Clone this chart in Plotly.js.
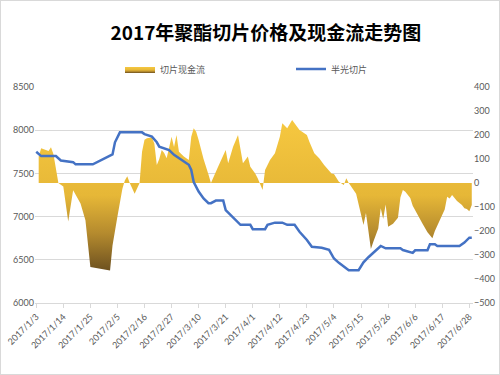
<!DOCTYPE html>
<html><head><meta charset="utf-8">
<script src="https://cdn.plot.ly/plotly-3.0.1.min.js"></script>
<style>
html,body{margin:0;padding:0;background:#fff;}
#wrap{width:500px;height:375px;box-sizing:border-box;border:1px solid #d9d9d9;}
#chart{width:498px;height:373px;}
</style>
</head><body><div id="wrap"><div id="chart"></div></div>
<script>
var titleText = '2017年聚酯切片价格及现金流走势图';
var cashName = '切片现金流';
var priceName = '半光切片';

var cashDates = ['2017-01-04','2017-01-05','2017-01-08','2017-01-09','2017-01-10','2017-01-12','2017-01-14','2017-01-16','2017-01-18','2017-01-21','2017-01-23','2017-01-24','2017-01-25','2017-02-02','2017-02-03','2017-02-05','2017-02-07','2017-02-08','2017-02-09','2017-02-10','2017-02-12','2017-02-14','2017-02-15','2017-02-16','2017-02-17','2017-02-19','2017-02-20','2017-02-21','2017-02-22','2017-02-23','2017-02-24','2017-02-25','2017-02-27','2017-02-28','2017-03-01','2017-03-02','2017-03-04','2017-03-06','2017-03-07','2017-03-08','2017-03-09','2017-03-10','2017-03-12','2017-03-14','2017-03-15','2017-03-18','2017-03-21','2017-03-22','2017-03-24','2017-03-26','2017-03-28','2017-03-30','2017-03-31','2017-04-02','2017-04-03','2017-04-05','2017-04-06','2017-04-08','2017-04-10','2017-04-12','2017-04-13','2017-04-15','2017-04-17','2017-04-20','2017-04-23','2017-04-24','2017-04-26','2017-04-28','2017-04-30','2017-05-03','2017-05-04','2017-05-06','2017-05-08','2017-05-09','2017-05-10','2017-05-13','2017-05-15','2017-05-16','2017-05-17','2017-05-18','2017-05-19','2017-05-20','2017-05-22','2017-05-23','2017-05-24','2017-05-25','2017-05-26','2017-05-28','2017-05-30','2017-05-31','2017-06-01','2017-06-02','2017-06-04','2017-06-05','2017-06-07','2017-06-09','2017-06-11','2017-06-12','2017-06-13','2017-06-14','2017-06-16','2017-06-18','2017-06-19','2017-06-20','2017-06-21','2017-06-23','2017-06-25','2017-06-26','2017-06-27','2017-06-28','2017-06-29'];
var cashValues = [110,145,133,149,120,0,-15,-160,-30,-85,-155,-240,-350,-365,-260,-140,-25,10,28,0,-45,0,130,180,186,190,165,75,100,137,125,103,193,150,200,130,110,96,193,228,214,179,100,35,0,70,137,82,151,200,82,110,68,40,20,-29,54,96,124,193,249,228,262,221,200,172,124,103,75,40,38,5,-8,20,0,-45,-140,-175,-125,-210,-275,-245,-190,-105,-150,-90,-182,-170,-145,-60,-29,-36,-62,-95,-135,-170,-205,-220,-230,-200,-155,-110,-57,-65,-50,-75,-92,-105,-108,-118,-92];

var priceDates = ['2017-01-03','2017-01-05','2017-01-11','2017-01-13','2017-01-18','2017-01-19','2017-01-26','2017-02-03','2017-02-04','2017-02-06','2017-02-15','2017-02-16','2017-02-19','2017-02-21','2017-02-22','2017-02-23','2017-02-26','2017-02-28','2017-03-03','2017-03-06','2017-03-07','2017-03-08','2017-03-10','2017-03-12','2017-03-14','2017-03-15','2017-03-17','2017-03-20','2017-03-21','2017-03-23','2017-03-25','2017-03-27','2017-03-31','2017-04-01','2017-04-06','2017-04-07','2017-04-10','2017-04-13','2017-04-15','2017-04-18','2017-04-20','2017-04-23','2017-04-25','2017-04-29','2017-05-02','2017-05-04','2017-05-06','2017-05-10','2017-05-14','2017-05-16','2017-05-18','2017-05-21','2017-05-23','2017-05-25','2017-05-31','2017-06-01','2017-06-04','2017-06-05','2017-06-06','2017-06-11','2017-06-12','2017-06-14','2017-06-15','2017-06-24','2017-06-26','2017-06-28','2017-06-29'];
var priceValues = [7750,7700,7700,7650,7630,7605,7605,7720,7860,7975,7975,7955,7925,7860,7810,7800,7770,7715,7655,7600,7540,7400,7290,7210,7155,7155,7185,7185,7075,7020,6960,6905,6905,6855,6855,6905,6930,6930,6905,6905,6825,6730,6650,6640,6615,6515,6465,6380,6380,6470,6530,6613,6660,6633,6633,6613,6585,6580,6610,6610,6680,6680,6660,6660,6700,6756,6756];

var leftTicks = [6000,6500,7000,7500,8000,8500];
var rightTicks = [-500,-400,-300,-200,-100,0,100,200,300,400];
var xTickStart = '2017-01-03';
var xTickDays = 11;

var tickFont = {family:'Lato, "Noto Sans CJK SC", sans-serif', size:9, color:'#595959'};

var traces = [
  {
    x: cashDates, y: cashValues, name: cashName, type:'scatter', mode:'lines',
    xaxis:'x', yaxis:'y', fill:'tozeroy',
    line:{width:0, color:'rgba(0,0,0,0)'},
    fillcolor:'#e8b938',
    fillgradient:{type:'vertical', start:-370, stop:265,
      colorscale:[[0,'#6b4f1f'],[0.25,'#b48a2e'],[0.5,'#e6b737'],[1,'#f6c840']]},
    hoverinfo:'skip'
  },
  {
    x: priceDates, y: priceValues, name: priceName, type:'scatter', mode:'lines',
    xaxis:'x', yaxis:'y2',
    line:{width:2.5, color:'#4472c4'},
    hoverinfo:'skip'
  }
];

var layout = {
  width:498, height:373,
  margin:{l:34, r:26, t:86, b:71, pad:0},
  paper_bgcolor:'#ffffff', plot_bgcolor:'rgba(0,0,0,0)',
  title:{text:titleText, x:0.532, xanchor:'center', y:0.914, yanchor:'middle',
    xref:'container', yref:'container',
    font:{family:'"Noto Sans CJK SC", sans-serif', size:19, color:'#000000', weight:700}},
  showlegend:true,
  legend:{orientation:'h', x:(120-35)/438, xanchor:'left', y:1+(87-69)/216, yanchor:'middle',
    entrywidth:126, font:{family:'"Noto Sans CJK SC", sans-serif', size:9, color:'#595959'},
    bgcolor:'rgba(0,0,0,0)', traceorder:'normal'},
  xaxis:{type:'date', range:['2017-01-02 12:00','2017-06-29 12:00'],
    tick0:xTickStart, dtick:xTickDays*86400000, tickformat:'%Y/%-m/%-d',
    tickangle:-45, ticks:'outside', ticklen:4, tickcolor:'#d9d9d9',
    showline:true, linecolor:'#d9d9d9', linewidth:1, showgrid:false, zeroline:false,
    tickfont:tickFont, fixedrange:true},
  yaxis:{side:'right', range:[-500,400], tickvals:rightTicks, showgrid:false, zeroline:false,
    showline:false, ticks:'', tickfont:tickFont, fixedrange:true},
  yaxis2:{side:'left', overlaying:'y', range:[6000,8500], tickvals:leftTicks,
    showgrid:true, gridcolor:'#d9d9d9', gridwidth:1, zeroline:false, showline:false, ticks:'',
    tickfont:tickFont, fixedrange:true}
};

Plotly.newPlot('chart', traces, layout, {displayModeBar:false, staticPlot:true});
</script></body></html>
